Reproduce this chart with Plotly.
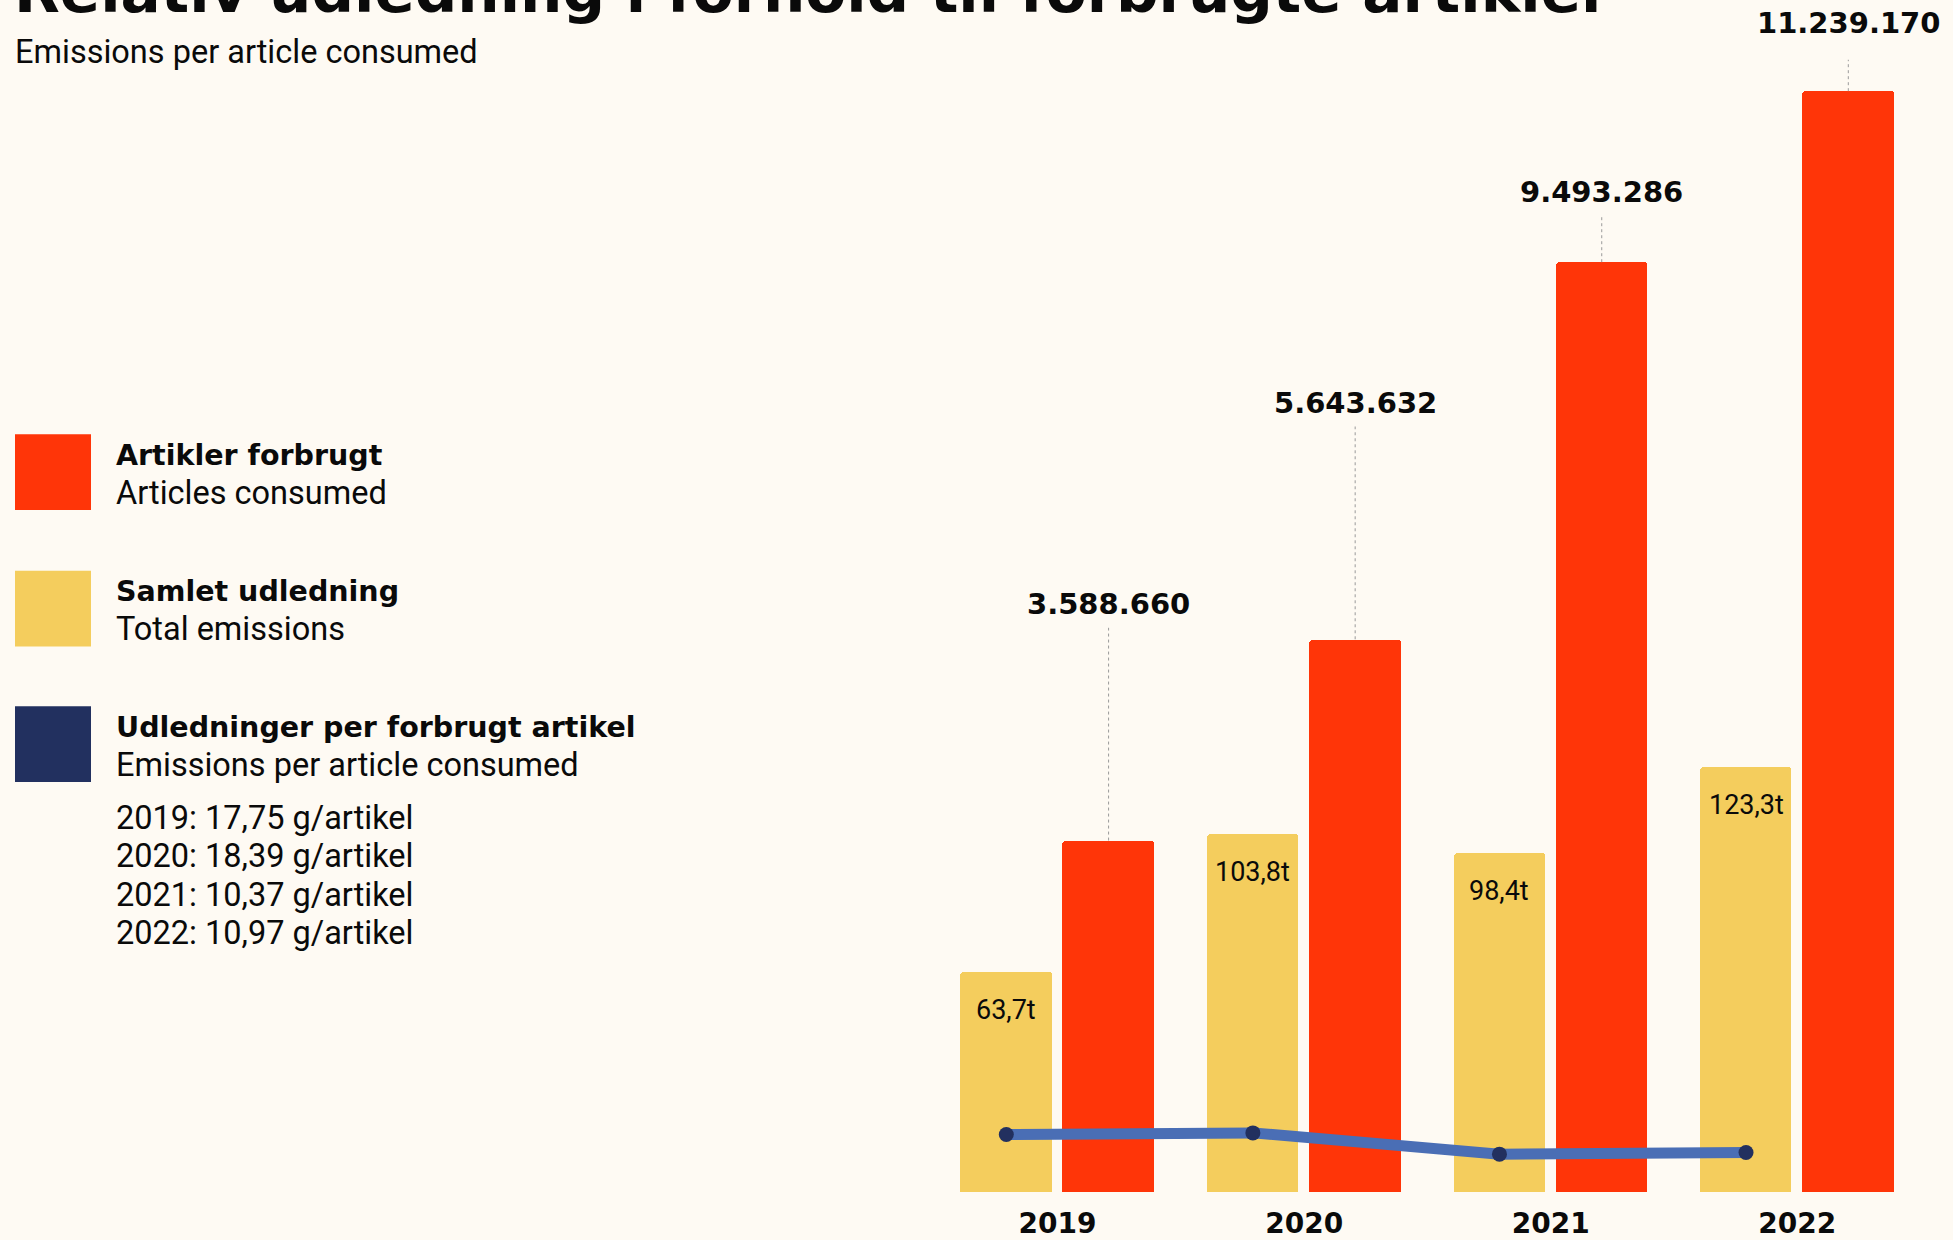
import plotly.graph_objects as go

# ---------------- data ----------------
years = ["2019", "2020", "2021", "2022"]
articles_consumed = [3588660, 5643632, 9493286, 11239170]
total_emissions_t = [63.7, 103.8, 98.4, 123.3]
emissions_per_article_g = [17.75, 18.39, 10.37, 10.97]

title_text = "Relativ udledning i forhold til forbrugte artikler"
subtitle_text = "Emissions per article consumed"
legend_titles = ["Artikler forbrugt", "Samlet udledning", "Udledninger per forbrugt artikel"]
legend_subtitles = ["Articles consumed", "Total emissions", "Emissions per article consumed"]

# ---------------- style ----------------
W, H = 1953, 1240
Y_CORR = 1.0075          # small vertical correction of the rendering
BG = "#FEFAF3"
RED = "#FF3508"
YELLOW = "#F4CD5D"
NAVY = "#22305F"
LINE = "#4A6EB5"
INK = "#0A0A0A"
BOLD_FONT = "DejaVu Sans"
REG_FONT = "Roboto"
REG_SIZE = 32.5

PLOT_LEFT, PLOT_RIGHT = 934.3, 1920.6
PLOT_TOP, PLOT_BOTTOM = 60.0, 1196.7
plot_h = (PLOT_BOTTOM - PLOT_TOP) * Y_CORR

px_per_article = 98.33 / 1e6 * Y_CORR
px_per_tonne = 3.466 * Y_CORR
px_per_gram = 2.66 * Y_CORR
line_zero_px = 10.5 * Y_CORR

red_label_lift = [235, 235, 70, 68]   # px above bar top
leader_gap = 24
red_shift_px = 51
yellow_shift_cat = 0.208


def px(x):
    return x / W


def py(y):
    return 1 - y * Y_CORR / H


fig = go.Figure()

fig.add_trace(go.Bar(
    x=years, y=total_emissions_t, xaxis="x", yaxis="y2",
    marker=dict(color=YELLOW, cornerradius=4, line=dict(width=0)),
    offset=-0.393, width=0.37, hoverinfo="skip", showlegend=False,
))
fig.add_trace(go.Bar(
    x=years, y=articles_consumed, xaxis="x", yaxis="y",
    marker=dict(color=RED, cornerradius=4, line=dict(width=0)),
    offset=0.021, width=0.372, hoverinfo="skip", showlegend=False,
))
fig.add_trace(go.Scatter(
    x=years, y=emissions_per_article_g, xaxis="x2", yaxis="y3",
    mode="lines+markers",
    line=dict(color=LINE, width=11),
    marker=dict(color=NAVY, size=15),
    hoverinfo="skip", showlegend=False, cliponaxis=False,
))

annotations = []
shapes = []

# red labels with dotted leaders (x given as category serial number)
for i, v in enumerate(articles_consumed):
    lift = red_label_lift[i] * Y_CORR
    annotations.append(dict(
        x=i, xref="x", y=v, yref="y", xshift=red_shift_px, yshift=lift,
        text=f"{v:,}".replace(",", "."), showarrow=False,
        font=dict(family=BOLD_FONT, size=29, color=INK, weight="bold"),
        xanchor="center", yanchor="middle",
    ))
    shapes.append(dict(
        type="line", xref="x", xsizemode="pixel", xanchor=i, x0=red_shift_px, x1=red_shift_px,
        yref="y", ysizemode="pixel", yanchor=v, y0=0, y1=lift - leader_gap,
        line=dict(color="#9A9A9A", width=1, dash="dot"),
    ))

# yellow labels inside bars
for i, v in enumerate(total_emissions_t):
    annotations.append(dict(
        x=i, xref="x2", y=v, yref="y2", yshift=-38 * Y_CORR,
        text=f"{v:.1f}".replace(".", ",") + "t", showarrow=False,
        font=dict(family=REG_FONT, size=27, color=INK),
        xanchor="center", yanchor="middle",
    ))

# title & subtitle
annotations.append(dict(
    x=px(12), y=py(-8.5), xref="paper", yref="paper", text=title_text,
    showarrow=False, xanchor="left", yanchor="middle",
    font=dict(family=BOLD_FONT, size=59.5, color=INK, weight="bold"),
))
annotations.append(dict(
    x=px(13), y=py(52), xref="paper", yref="paper", text=subtitle_text,
    showarrow=False, xanchor="left", yanchor="middle",
    font=dict(family=REG_FONT, size=REG_SIZE, color=INK),
))

# custom legend
legend_colors = [RED, YELLOW, NAVY]
square_tops = [436, 573, 709]
for k in range(3):
    t = square_tops[k]
    shapes.append(dict(type="rect", xref="paper", yref="paper",
                       x0=px(15), x1=px(91), y0=py(t + 76), y1=py(t),
                       fillcolor=legend_colors[k], line=dict(width=0)))
    annotations.append(dict(
        x=px(114), y=py(t + 21), xref="paper", yref="paper", text=legend_titles[k],
        showarrow=False, xanchor="left", yanchor="middle",
        font=dict(family=BOLD_FONT, size=28.5, color=INK, weight="bold"),
    ))
    annotations.append(dict(
        x=px(114), y=py(t + 58.5), xref="paper", yref="paper", text=legend_subtitles[k],
        showarrow=False, xanchor="left", yanchor="middle",
        font=dict(family=REG_FONT, size=REG_SIZE, color=INK),
    ))

for j, (yr, g) in enumerate(zip(years, emissions_per_article_g)):
    annotations.append(dict(
        x=px(114), y=py(821 + 38.6 * j), xref="paper", yref="paper",
        text=f"{yr}: {g:.2f}".replace(".", ",") + " g/artikel",
        showarrow=False, xanchor="left", yanchor="middle",
        font=dict(family=REG_FONT, size=REG_SIZE, color=INK),
    ))

dom_x = [px(PLOT_LEFT), px(PLOT_RIGHT)]
dom_y = [py(PLOT_BOTTOM), py(PLOT_TOP)]

fig.update_layout(
    width=W, height=H,
    margin=dict(l=0, r=0, t=0, b=0, pad=0),
    paper_bgcolor=BG, plot_bgcolor="rgba(0,0,0,0)",
    showlegend=False, hovermode=False,
    bargap=0,
    xaxis=dict(domain=dom_x, type="category", range=[-0.5, 3.5],
               showgrid=False, zeroline=False, showline=False,
               ticks="outside", ticklen=6, tickcolor="rgba(0,0,0,0)",
               tickfont=dict(family=BOLD_FONT, size=28, color=INK, weight="bold"),
               fixedrange=True),
    xaxis2=dict(type="category", overlaying="x", anchor="y",
                range=[-0.5 + yellow_shift_cat, 3.5 + yellow_shift_cat],
                visible=False, fixedrange=True),
    yaxis=dict(domain=dom_y, range=[0, plot_h / px_per_article], visible=False, fixedrange=True),
    yaxis2=dict(overlaying="y", range=[0, plot_h / px_per_tonne], visible=False, fixedrange=True),
    yaxis3=dict(overlaying="y", anchor="x",
                range=[-line_zero_px / px_per_gram, (plot_h - line_zero_px) / px_per_gram],
                visible=False, fixedrange=True),
    annotations=annotations,
    shapes=shapes,
)

fig.write_html("out.html", config={"displayModeBar": False},
               post_script="document.body.style.margin='0';")
